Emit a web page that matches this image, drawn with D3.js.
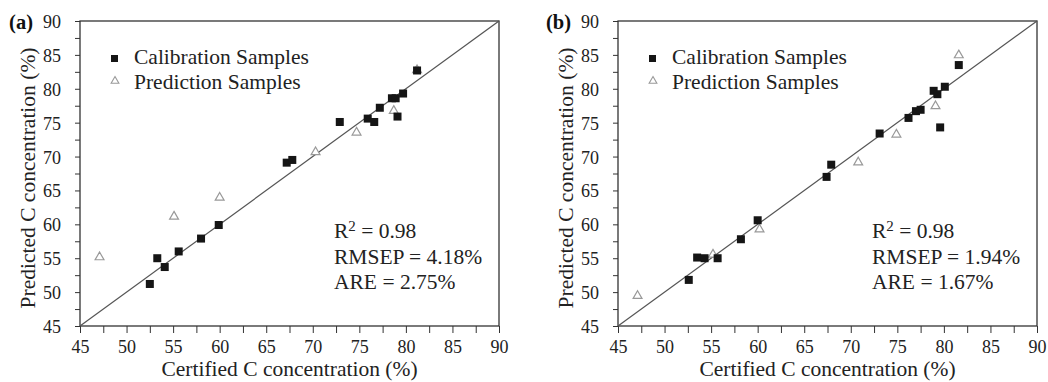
<!DOCTYPE html>
<html><head><meta charset="utf-8">
<script src="https://cdn.jsdelivr.net/npm/d3@7"></script>
<style>
html,body{margin:0;padding:0;background:#fff;}
svg{display:block;}
</style></head>
<body>
<script>
// ---- data ----
const panelLabels = ["(a)", "(b)"];
const xTitle = "Certified C concentration (%)";
const yTitle = "Predicted C concentration (%)";
const legendLabels = ["Calibration Samples", "Prediction Samples"];
const majorTicks = [45, 50, 55, 60, 65, 70, 75, 80, 85, 90];
const minorTicks = [47.5, 52.5, 57.5, 62.5, 67.5, 72.5, 77.5, 82.5, 87.5];

const calA = [[52.5,51.2],[53.3,55.0],[54.1,53.7],[55.6,56.0],[58.0,57.9],[59.9,59.9],
  [67.2,69.1],[67.8,69.5],[72.9,75.1],[75.9,75.6],[76.6,75.1],[77.2,77.2],[78.5,78.6],
  [78.9,78.6],[79.7,79.3],[79.1,75.9],[81.2,82.7]];
const predA = [[47.1,55.3],[55.1,61.3],[60.0,64.1],[70.3,70.8],[74.7,73.7],[78.7,76.9],[81.2,82.9]];

const calB = [[52.6,51.8],[53.5,55.1],[54.3,55.0],[55.7,55.0],[58.2,57.8],[60.0,60.6],
  [67.4,67.0],[67.9,68.8],[73.1,73.4],[76.2,75.7],[77.0,76.7],[77.5,76.9],[78.9,79.7],
  [79.3,79.2],[80.1,80.3],[79.6,74.3],[81.6,83.5]];
const predB = [[47.1,49.6],[55.2,55.7],[60.2,59.4],[70.8,69.3],[74.9,73.4],[79.1,77.6],[81.6,85.1]];

const statsA = ["0.98", "4.18%", "2.75%"];
const statsB = ["0.98", "1.94%", "1.67%"];

const panels = [
  {label: panelLabels[0], cal: calA, pred: predA, stats: statsA, left: 80},
  {label: panelLabels[1], cal: calB, pred: predB, stats: statsB, left: 618}
];

const W = 1048, H = 382;
const plotTop = 21, plotBottom = 326, pw = 419;
const textColor = "#222";
const axisColor = "#333";
const FONT = "Liberation Serif";

const svg = d3.select("body").append("svg").attr("width", W).attr("height", H);

function txt(sel) { return sel.style("font-family", FONT).attr("fill", textColor); }

panels.forEach(p => {
  const x = d3.scaleLinear().domain([45, 90]).range([p.left, p.left + pw]);
  const y = d3.scaleLinear().domain([45, 90]).range([plotBottom, plotTop]);
  const g = svg.append("g");

  // frame
  g.append("rect").attr("x", x(45)).attr("y", y(90)).attr("width", x(90) - x(45)).attr("height", y(45) - y(90))
    .attr("fill", "none").attr("stroke", axisColor).attr("stroke-width", 1.3);

  // x axis
  const xa = g.append("g").attr("transform", `translate(0,${plotBottom})`)
    .call(d3.axisBottom(x).tickValues(majorTicks).tickSize(7).tickPadding(7).tickFormat(d3.format("d")));
  const xm = g.append("g").attr("transform", `translate(0,${plotBottom})`)
    .call(d3.axisBottom(x).tickValues(minorTicks).tickSize(7).tickFormat(""));
  // y axis
  const ya = g.append("g").attr("transform", `translate(${p.left},0)`)
    .call(d3.axisLeft(y).tickValues(majorTicks).tickSize(5).tickPadding(14).tickFormat(d3.format("d")));
  const ym = g.append("g").attr("transform", `translate(${p.left},0)`)
    .call(d3.axisLeft(y).tickValues(minorTicks).tickSize(5).tickFormat(""));
  [xa, xm, ya, ym].forEach(a => {
    a.select(".domain").remove();
    a.selectAll("line").attr("stroke", axisColor).attr("stroke-width", 1);
    txt(a.selectAll("text")).attr("font-size", 18);
  });
  ya.selectAll("text").attr("dy", "0.36em");

  // diagonal
  g.append("line").attr("x1", x(45)).attr("y1", y(45)).attr("x2", x(90)).attr("y2", y(90))
    .attr("stroke", "#555").attr("stroke-width", 1.2);

  // prediction triangles
  const tri = d3.symbol().type(d3.symbolTriangle).size(34);
  g.selectAll(".pred").data(p.pred).enter().append("path")
    .attr("d", tri).attr("transform", d => `translate(${x(d[0])},${y(d[1]) + 1})`)
    .attr("fill", "#fff").attr("stroke", "#999").attr("stroke-width", 1.2);
  // calibration squares
  g.selectAll(".cal").data(p.cal).enter().append("rect")
    .attr("x", d => x(d[0]) - 4).attr("y", d => y(d[1]) - 4)
    .attr("width", 8).attr("height", 8).attr("fill", "#151515");

  // legend
  g.append("rect").attr("x", p.left + 31).attr("y", 55).attr("width", 7).attr("height", 7).attr("fill", "#151515");
  g.append("path").attr("d", d3.symbol().type(d3.symbolTriangle).size(26))
    .attr("transform", `translate(${p.left + 35},${81})`)
    .attr("fill", "#fff").attr("stroke", "#999").attr("stroke-width", 1.1);
  txt(g.append("text")).attr("x", p.left + 54).attr("y", 64).attr("font-size", 21.5).text(legendLabels[0]);
  txt(g.append("text")).attr("x", p.left + 54).attr("y", 89).attr("font-size", 21.5).text(legendLabels[1]);

  // stats
  const sx = p.left + 254;
  const t1 = txt(g.append("text")).attr("x", sx).attr("y", 238).attr("font-size", 21.5);
  t1.append("tspan").text("R");
  t1.append("tspan").attr("font-size", 15).attr("dy", -7).text("2");
  t1.append("tspan").attr("dy", 7).text(" = " + p.stats[0]);
  txt(g.append("text")).attr("x", sx).attr("y", 263.5).attr("font-size", 21.5).text("RMSEP = " + p.stats[1]);
  txt(g.append("text")).attr("x", sx).attr("y", 289).attr("font-size", 21.5).text("ARE = " + p.stats[2]);

  // titles
  txt(g.append("text")).attr("x", (x(45) + x(90)) / 2).attr("y", 376).attr("text-anchor", "middle")
    .attr("font-size", 21.5).text(xTitle);
  txt(g.append("text")).attr("transform", `translate(${p.left - 45},${178}) rotate(-90)`).attr("text-anchor", "middle")
    .attr("font-size", 21.5).text(yTitle);

  // panel label
  txt(g.append("text")).attr("x", p.left - 47).attr("y", 29).attr("text-anchor", "end")
    .attr("font-size", 20.5).attr("font-weight", "bold").attr("fill", "#111").text(p.label);
});
</script>
</body></html>
